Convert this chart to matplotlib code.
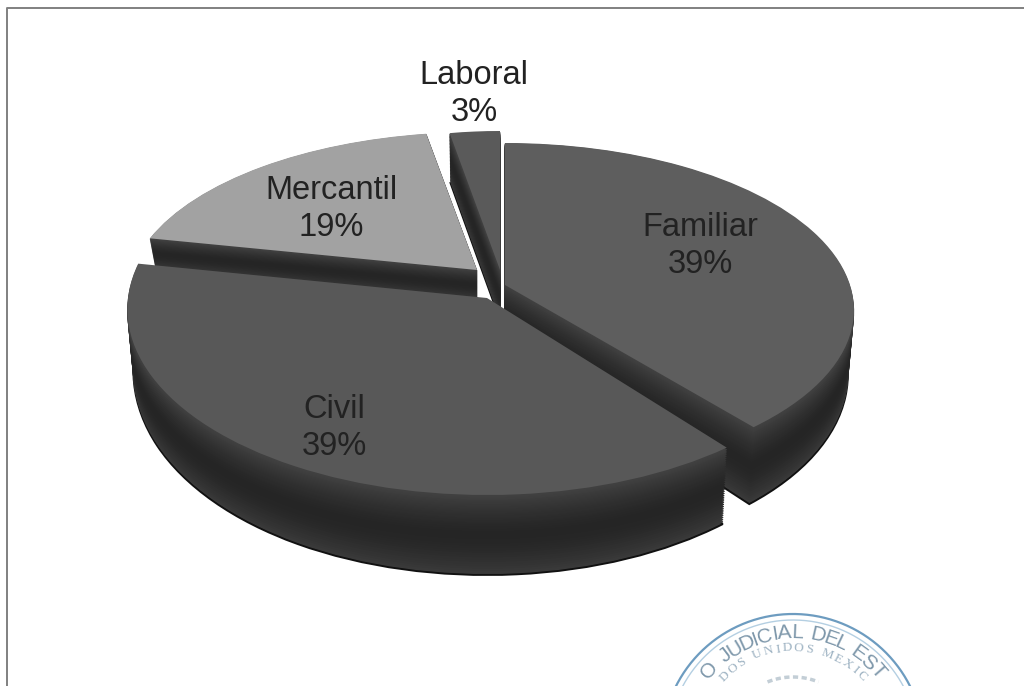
import numpy as np
import matplotlib
matplotlib.use("Agg")
import matplotlib.pyplot as plt
from matplotlib.transforms import Transform
from matplotlib.textpath import TextPath
from matplotlib.font_manager import FontProperties

categories = ["Familiar", "Civil", "Mercantil", "Laboral"]
percent = [39, 39, 19, 3]
face_colors = ["#5e5e5e", "#585858", "#a2a2a2", "#5a5a5a"]
draw_rank = [2, 3, 0, 1]
label_text = ["Familiar\n39%", "Civil\n39%", "Mercantil\n19%", "Laboral\n3%"]
label_xy = [(700, 246), (334, 428), (331, 209), (474, 94)]

# per-slice projection of the 3-D look (layout only)
tip_x = [505, 487, 477, 500]
tip_y = [285, 298, 270, 270]
semi_x = [345, 359, 345, 310]
back_b = [142, 175, 138, 139]
front_b = [192, 197, 190, 190]
tip_depth = [60, 60, 30, 50]
front_grow = [20, 20, 0, 0]
back_grow = [30, 30, 0, 0]
spin = [0, 0, -1, 0]

plt.rcParams["font.family"] = ["Liberation Sans", "DejaVu Sans"]
fig = plt.figure(figsize=(10.24, 6.86), dpi=100, facecolor="white")
ax = fig.add_axes([0, 0, 1, 1])


class Persp(Transform):
    input_dims = 2
    output_dims = 2
    is_separable = False
    has_inverse = False

    def __init__(self, i, t):
        super().__init__()
        up0, down0 = back_b[i], front_b[i]
        up = up0 + back_grow[i] * t
        down = down0 + front_grow[i] * t
        self.kx = (down0 - up0) / (down0 + up0)
        self.k = (down - up) / (down + up)
        self.b = up * (1 + self.k)
        self.x0 = tip_x[i]
        self.y0 = tip_y[i] + tip_depth[i] * t
        self.a = semi_x[i] - 6 * t
        self.r = np.radians(spin[i])

    def transform_non_affine(self, v):
        v = np.asarray(v, float)
        c, s = np.cos(self.r), np.sin(self.r)
        x = c * v[:, 0] - s * v[:, 1]
        y = s * v[:, 0] + c * v[:, 1]
        return np.column_stack((self.x0 + self.a * x / (1 + self.kx * y),
                                self.y0 - self.b * y / (1 + self.k * y)))


n_layers = 36
for j, t in enumerate(np.linspace(1, 0, n_layers)):
    if t == 0:
        cols = face_colors
    else:
        g = 0.13 + 0.10 * abs(2 * t - 1) ** 1.5 + 0.03 * (1 - t)
        cols = [(g, g, g)] * 4
    wedges, _ = ax.pie(percent, colors=cols, startangle=90,
                       counterclock=False, radius=1,
                       wedgeprops=dict(linewidth=0.6, edgecolor=cols[0] if t else "none"))
    for i, w in enumerate(wedges):
        w.set_transform(Persp(i, t) + ax.transData)
        w.set_zorder(10 + draw_rank[i] * 100 + j)
        if j == 0:
            w.set_edgecolor("#111111")
            w.set_linewidth(1.4)

ax.set_aspect("auto")
ax.set_xlim(0, 1024)
ax.set_ylim(686, 0)
ax.axis("off")

for s, (x, y) in zip(label_text, label_xy):
    ax.text(x, y, s, ha="center", va="center", fontsize=23.5, color="#222222",
            linespacing=1.22, zorder=1000)

# scanned frame
ax.plot([7, 7, 1024], [686, 8, 8], color="#808080", lw=1.4, zorder=1)

# stamp
sc = (793, 745)
phi = np.radians(np.linspace(-65, 65, 200))
for R, col, lw in [(131, "#6d9cc0", 1.6), (125, "#b4cfe2", 1.0)]:
    ax.plot(sc[0] + R * np.sin(phi), sc[1] - R * np.cos(phi), color=col, lw=lw, zorder=2)
phi2 = np.radians(np.linspace(-22, 22, 40))
ax.plot(sc[0] + 68 * np.sin(phi2), sc[1] - 68 * np.cos(phi2), color="#c3ced6", lw=2.5,
        ls=(0, (1.5, 1)), zorder=2)


def arc_text(s, R, a0, a1, size, col, fam):
    fp = FontProperties(family=fam)
    widths = []
    for ch in s:
        widths.append(0.55 * size if ch == " " else TextPath((0, 0), ch, size=size, prop=fp).get_extents().width + 0.3 * size)
    widths = np.array(widths)
    centers = np.cumsum(widths) - widths / 2
    angles = a0 + (a1 - a0) * (centers - centers[0]) / (centers[-1] - centers[0])
    for ch, a in zip(s, angles):
        r = np.radians(a)
        ax.text(sc[0] + R * np.sin(r), sc[1] - R * np.cos(r), ch, rotation=-a,
                rotation_mode="anchor", ha="center", va="center", fontsize=size,
                color=col, zorder=2, family=fam)


arc_text("O JUDICIAL DEL EST", 112, -48, 49, 15, "#7f98ab", "Liberation Sans")
arc_text("DOS UNIDOS MEXIC", 97, -45, 45, 9.5, "#9db2c2", "Liberation Serif")

fig.savefig("out.png", dpi=100)
